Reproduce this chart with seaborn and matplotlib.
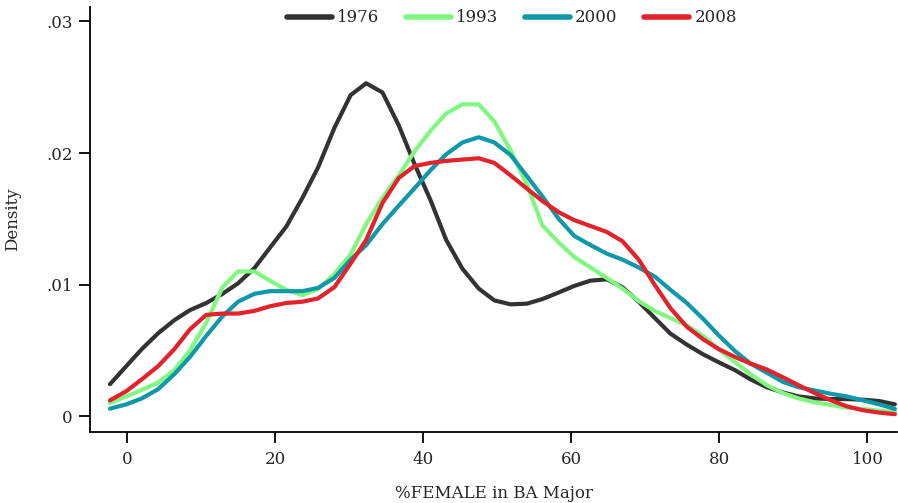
import numpy as np
import pandas as pd
import matplotlib
matplotlib.use("Agg")
import matplotlib.pyplot as plt
import seaborn as sns

# evaluation grid (%FEMALE) and density estimates, in units of 0.001
x_grid = [-2.3, -0.1, 2.0, 4.2, 6.4, 8.5, 10.7, 12.9, 15.0, 17.2,
          19.3, 21.5, 23.7, 25.8, 28.0, 30.2, 32.3, 34.5, 36.7, 38.8,
          41.0, 43.1, 45.3, 47.5, 49.6, 51.8, 54.0, 56.1, 58.3, 60.4,
          62.6, 64.8, 66.9, 69.1, 71.3, 73.4, 75.6, 77.8, 79.9, 82.1,
          84.2, 86.4, 88.6, 90.7, 92.9, 95.1, 97.2, 99.4, 101.6, 103.7]

d1976 = [2.43, 3.8, 5.1, 6.3, 7.3, 8.06, 8.6, 9.3, 10.1, 11.25,
         12.8, 14.4, 16.6, 18.9, 21.9, 24.4, 25.3, 24.6, 22.1, 19.2,
         16.4, 13.4, 11.2, 9.7, 8.8, 8.5, 8.55, 8.9, 9.4, 9.9,
         10.3, 10.4, 9.8, 8.7, 7.45, 6.27, 5.44, 4.7, 4.1, 3.5,
         2.8, 2.2, 1.8, 1.5, 1.35, 1.3, 1.3, 1.25, 1.15, 0.9]

d1993 = [1.0, 1.5, 2.0, 2.55, 3.5, 5.0, 7.1, 9.8, 11.0, 11.0,
         10.3, 9.6, 9.2, 9.65, 10.8, 12.3, 14.6, 16.6, 18.3, 20.1,
         21.7, 23.0, 23.7, 23.7, 22.4, 20.2, 17.6, 14.5, 13.2, 12.1,
         11.3, 10.5, 9.7, 8.75, 8.0, 7.45, 6.9, 6.1, 5.1, 4.1,
         3.2, 2.35, 1.75, 1.35, 1.05, 0.85, 0.65, 0.55, 0.42, 0.3]

d2000 = [0.57, 0.9, 1.35, 2.05, 3.2, 4.5, 6.1, 7.6, 8.7, 9.3,
         9.5, 9.5, 9.5, 9.75, 10.5, 11.9, 13.0, 14.6, 16.0, 17.3,
         18.7, 19.9, 20.8, 21.2, 20.8, 19.85, 18.25, 16.7, 15.0, 13.7,
         13.0, 12.35, 11.9, 11.3, 10.6, 9.6, 8.6, 7.4, 6.15, 4.95,
         4.0, 3.3, 2.6, 2.2, 1.95, 1.7, 1.5, 1.2, 0.9, 0.55]

d2008 = [1.2, 1.9, 2.8, 3.8, 5.1, 6.6, 7.7, 7.8, 7.8, 8.0,
         8.35, 8.6, 8.7, 8.95, 9.8, 11.6, 13.4, 16.2, 18.1, 19.0,
         19.25, 19.4, 19.5, 19.6, 19.25, 18.3, 17.3, 16.35, 15.5, 14.9,
         14.45, 14.0, 13.3, 11.9, 9.95, 8.2, 6.8, 5.85, 5.1, 4.5,
         4.0, 3.55, 2.95, 2.35, 1.75, 1.2, 0.75, 0.45, 0.27, 0.15]

years = ["1976", "1993", "2000", "2008"]
colors = {"1976": "#333333", "1993": "#80f880", "2000": "#0f97aa", "2008": "#e3222b"}
yticks = [0, 0.01, 0.02, 0.03]
ytick_labels = ["0", ".01", ".02", ".03"]
xticks = [0, 20, 40, 60, 80, 100]

frames = []
for yr, d in zip(years, [d1976, d1993, d2000, d2008]):
    frames.append(pd.DataFrame({"x": x_grid, "density": np.array(d) / 1000, "year": yr}))
df = pd.concat(frames, ignore_index=True)

sns.set_style("ticks")
plt.rcParams["font.family"] = ["DejaVu Serif"]

fig = plt.figure(figsize=(8.98, 5.03), dpi=100)
ax = fig.add_axes([0.1002, 0.1412, 0.8988, 0.845])

sns.lineplot(data=df, x="x", y="density", hue="year", hue_order=years,
             palette=colors, linewidth=3.0, ax=ax, sort=False)

ax.set_xlim(-5, 104)
ax.set_ylim(-0.0012, 0.0311)
ax.set_xticks(xticks)
ax.set_xticklabels([str(t) for t in xticks], fontsize=12)
ax.set_yticks(yticks)
ax.set_yticklabels(ytick_labels, fontsize=12)
ax.tick_params(axis="both", length=8, width=1.3, color="black", pad=4.5)
ax.tick_params(axis="x", pad=6)
ax.set_xlabel("%FEMALE in BA Major", fontsize=12, labelpad=12)
ax.set_ylabel("Density", fontsize=12, labelpad=18)
for s in ["left", "bottom"]:
    ax.spines[s].set_linewidth(1.3)
    ax.spines[s].set_color("black")
sns.despine(ax=ax)

leg = ax.legend(loc="center", bbox_to_anchor=(0.523, 0.974), ncol=4, frameon=False,
                fontsize=12, handlelength=2.7, handletextpad=0.3, columnspacing=1.6)
for line in leg.get_lines():
    line.set_linewidth(4.0)
    line.set_solid_capstyle("round")

fig.savefig("out.png", dpi=100)
